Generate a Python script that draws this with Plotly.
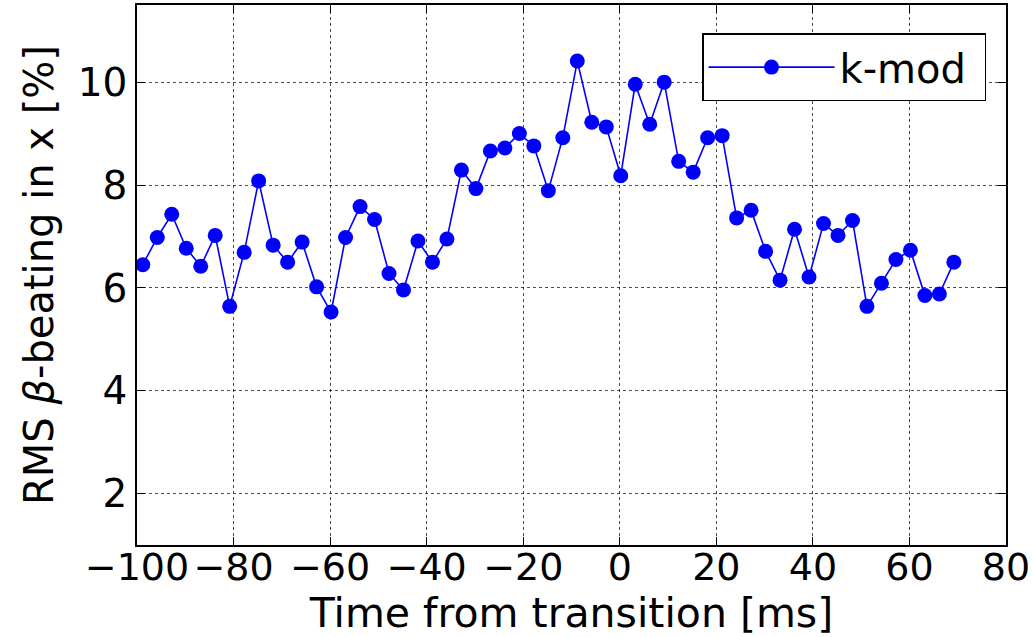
import plotly.graph_objects as go

# Time from transition [ms]
time_ms = [-98.8, -95.8, -92.8, -89.8, -86.8, -83.8, -80.8, -77.8, -74.8, -71.8,
           -68.8, -65.8, -62.8, -59.8, -56.8, -53.8, -50.8, -47.8, -44.8, -41.8,
           -38.8, -35.8, -32.8, -29.8, -26.8, -23.8, -20.8, -17.8, -14.8, -11.8,
           -8.8, -5.8, -2.8, 0.2, 3.2, 6.2, 9.2, 12.2, 15.2, 18.2,
           21.2, 24.2, 27.2, 30.2, 33.2, 36.2, 39.2, 42.2, 45.2, 48.2,
           51.2, 54.2, 57.2, 60.2, 63.2, 66.2, 69.2]

# RMS beta-beating in x [%] from k-modulation
beating_kmod = [6.45, 6.98, 7.43, 6.77, 6.42, 7.02, 5.64, 6.69, 8.08, 6.83,
                6.50, 6.89, 6.02, 5.53, 6.98, 7.58, 7.33, 6.28, 5.96, 6.91,
                6.50, 6.95, 8.29, 7.93, 8.66, 8.72, 9.00, 8.76, 7.89, 8.92,
                10.41, 9.22, 9.13, 8.18, 9.96, 9.18, 10.00, 8.46, 8.25, 8.92,
                8.96, 7.36, 7.51, 6.71, 6.15, 7.14, 6.21, 7.25, 7.02, 7.31,
                5.64, 6.09, 6.55, 6.73, 5.85, 5.88, 6.50]

x_ticks = [-100, -80, -60, -40, -20, 0, 20, 40, 60, 80]
y_ticks = [2, 4, 6, 8, 10]

font_family = "DejaVu Sans"

fig = go.Figure()
fig.add_trace(go.Scatter(
    x=time_ms, y=beating_kmod,
    mode="lines+markers",
    name="k-mod\u00a0",
    line=dict(color="#0000ff", width=1.6),
    marker=dict(color="#0000ff", size=15, line=dict(width=0)),
))

axis_common = dict(
    showline=True, linecolor="black", linewidth=1.5, mirror="allticks",
    ticks="inside", ticklen=8, tickwidth=1.2, tickcolor="black",
    showgrid=True, gridcolor="rgba(0,0,0,0.7)", gridwidth=1, griddash="dot",
    zeroline=False, automargin=False, tickangle=0,
)

fig.update_xaxes(
    range=[-100, 80], tickvals=x_ticks,
    tickfont=dict(family=font_family, size=38, color="black"),
    ticklabelstandoff=-12,
    title=dict(text="Time from transition [ms]",
               font=dict(family=font_family, size=41, color="black"),
               standoff=16),
    **axis_common,
)
fig.update_yaxes(
    range=[1, 11.5], tickvals=y_ticks,
    tickfont=dict(family=font_family, size=39, color="black"),
    title=dict(text="RMS <i>β</i>-beating in x [%]",
               font=dict(family=font_family, size=40, color="black"),
               standoff=12),
    **axis_common,
)

fig.update_layout(
    width=1033, height=637,
    margin=dict(l=137, r=27, t=5, b=92),
    paper_bgcolor="white", plot_bgcolor="white",
    font=dict(family=font_family, color="black"),
    showlegend=True,
    legend=dict(
        x=0.977, y=0.948, xanchor="right", yanchor="top",
        bgcolor="white", bordercolor="black", borderwidth=1.5,
        font=dict(family=font_family, size=40, color="black"),
        itemwidth=126,
    ),
)

fig.write_html("out.html")
